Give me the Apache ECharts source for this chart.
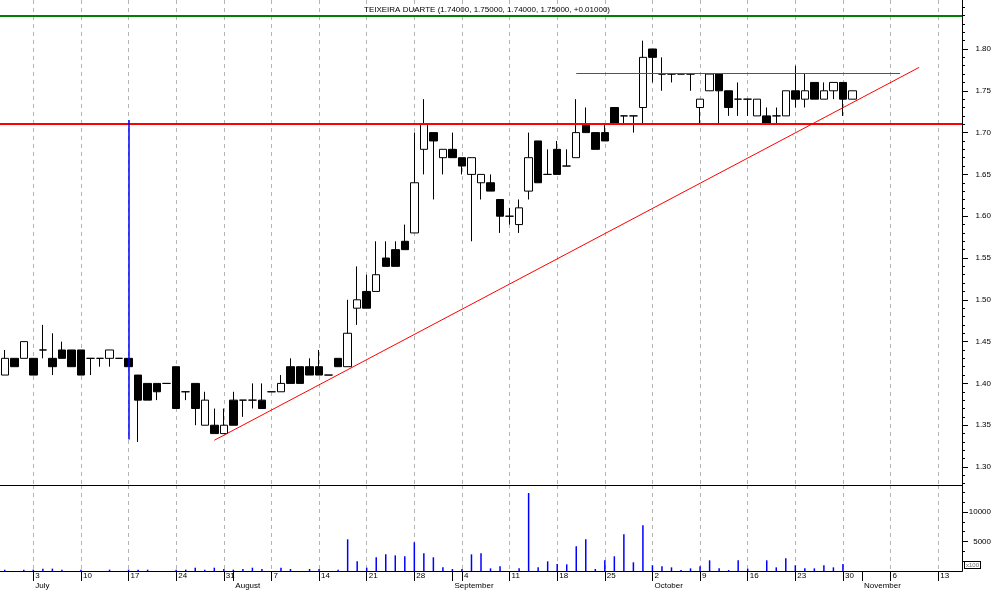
<!DOCTYPE html>
<html><head><meta charset="utf-8">
<script src="https://cdn.jsdelivr.net/npm/echarts@6/dist/echarts.min.js"></script>
<style>html,body{margin:0;padding:0;background:#fff}#c{width:994px;height:591px}</style>
</head><body><div id="c"></div>
<script>
// trading-day categories (2006), including empty future days on the axis
const dates = [
'2006-06-28','2006-06-29','2006-06-30',
'2006-07-03','2006-07-04','2006-07-05','2006-07-06','2006-07-07','2006-07-10','2006-07-11','2006-07-12','2006-07-13','2006-07-14',
'2006-07-17','2006-07-18','2006-07-19','2006-07-20','2006-07-21','2006-07-24','2006-07-25','2006-07-26','2006-07-27','2006-07-28','2006-07-31',
'2006-08-01','2006-08-02','2006-08-03','2006-08-04','2006-08-07','2006-08-08','2006-08-09','2006-08-10','2006-08-11','2006-08-14','2006-08-15',
'2006-08-16','2006-08-17','2006-08-18','2006-08-21','2006-08-22','2006-08-23','2006-08-24','2006-08-25','2006-08-28','2006-08-29','2006-08-30','2006-08-31',
'2006-09-01','2006-09-04','2006-09-05','2006-09-06','2006-09-07','2006-09-08','2006-09-11','2006-09-12','2006-09-13','2006-09-14','2006-09-15',
'2006-09-18','2006-09-19','2006-09-20','2006-09-21','2006-09-22','2006-09-25','2006-09-26','2006-09-27','2006-09-28','2006-09-29',
'2006-10-02','2006-10-03','2006-10-04','2006-10-05','2006-10-06','2006-10-09','2006-10-10','2006-10-11','2006-10-12','2006-10-13',
'2006-10-16','2006-10-17','2006-10-18','2006-10-19','2006-10-20','2006-10-23','2006-10-24','2006-10-25','2006-10-26','2006-10-27','2006-10-30','2006-10-31',
'2006-11-01','2006-11-02','2006-11-03','2006-11-06','2006-11-07','2006-11-08','2006-11-09','2006-11-10','2006-11-13','2006-11-14','2006-11-15'
];
const openP  = [1.41,1.43,1.43,1.43,1.44,1.43,1.44,1.44,1.44,1.43,1.43,1.43,1.43,1.43,1.41,1.40,1.40,1.40,1.42,1.39,1.40,1.35,1.35,1.34,
1.38,1.38,1.38,1.38,1.39,1.39,1.42,1.42,1.42,1.42,1.41,1.43,1.42,1.49,1.51,1.51,1.55,1.56,1.57,1.58,1.68,1.70,1.67,
1.68,1.67,1.65,1.64,1.64,1.62,1.60,1.59,1.63,1.69,1.65,1.68,1.66,1.67,1.71,1.70,1.70,1.73,1.72,1.72,1.73,
1.80,1.77,1.77,1.77,1.77,1.73,1.75,1.77,1.75,1.74,1.74,1.72,1.72,1.72,1.72,1.75,1.74,1.76,1.74,1.75,1.76,1.74];
const closeP = [1.43,1.42,1.45,1.41,1.44,1.42,1.43,1.42,1.41,1.43,1.43,1.44,1.43,1.42,1.38,1.38,1.39,1.40,1.37,1.39,1.37,1.38,1.34,1.35,
1.35,1.38,1.38,1.37,1.39,1.40,1.40,1.40,1.41,1.41,1.41,1.42,1.46,1.50,1.49,1.53,1.54,1.54,1.56,1.64,1.71,1.69,1.68,
1.67,1.66,1.67,1.65,1.63,1.60,1.60,1.61,1.67,1.64,1.65,1.65,1.66,1.70,1.70,1.68,1.69,1.71,1.72,1.72,1.79,
1.79,1.77,1.77,1.77,1.77,1.74,1.77,1.75,1.73,1.74,1.74,1.74,1.71,1.72,1.75,1.74,1.75,1.74,1.75,1.76,1.74,1.75];
const lowP   = [1.41,1.42,1.43,1.41,1.43,1.41,1.43,1.42,1.41,1.41,1.42,1.42,1.43,1.42,1.33,1.38,1.38,1.40,1.37,1.38,1.35,1.35,1.34,1.34,
1.35,1.36,1.37,1.37,1.39,1.39,1.40,1.40,1.41,1.41,1.41,1.42,1.42,1.47,1.49,1.51,1.54,1.54,1.56,1.58,1.65,1.62,1.65,
1.67,1.65,1.57,1.62,1.63,1.58,1.59,1.58,1.62,1.64,1.65,1.65,1.66,1.67,1.70,1.68,1.69,1.71,1.71,1.70,1.71,
1.76,1.75,1.76,1.77,1.75,1.71,1.75,1.71,1.72,1.72,1.72,1.72,1.71,1.71,1.72,1.73,1.73,1.74,1.74,1.74,1.72,1.74];
const highP  = [1.44,1.43,1.45,1.43,1.47,1.46,1.45,1.44,1.44,1.43,1.43,1.44,1.43,1.43,1.41,1.40,1.40,1.40,1.42,1.39,1.40,1.39,1.37,1.37,
1.39,1.38,1.40,1.40,1.39,1.41,1.43,1.42,1.43,1.44,1.41,1.43,1.50,1.54,1.53,1.57,1.57,1.57,1.59,1.70,1.74,1.70,1.68,
1.70,1.67,1.67,1.65,1.65,1.62,1.61,1.62,1.70,1.69,1.68,1.69,1.68,1.74,1.73,1.70,1.71,1.73,1.72,1.72,1.81,
1.80,1.79,1.77,1.77,1.77,1.74,1.77,1.77,1.75,1.76,1.74,1.74,1.73,1.73,1.75,1.78,1.77,1.76,1.76,1.76,1.76,1.75];
// volume (x100)
const volume = [230,0,230,230,400,400,230,0,230,0,0,230,0,230,230,230,0,0,230,230,560,230,560,340,
230,340,560,340,0,560,340,0,340,340,0,230,5370,1640,560,2320,2820,2650,2490,4860,2990,2320,620,
340,340,2820,2990,450,790,0,450,13220,620,1640,1190,1130,4180,5370,340,1810,2490,6210,1470,7740,
960,790,620,170,450,790,1810,450,170,1810,400,0,1810,620,2150,960,450,450,960,620,1190,0];
// drawn lines
const supportLevel = 1.7115;
const topLevel = 1.8434;
const resistance = [['2006-09-20',1.771],['2006-11-07',1.771]];
const trendLine = [['2006-07-28',1.332],['2006-11-09',1.778]];
const spikeJul = [['2006-07-17',1.715],['2006-07-17',1.333]];
const spikeOct = [['2006-10-20',1.733],['2006-10-20',1.87]];
// tick labels
const weekTicks = ['2006-07-03','2006-07-10','2006-07-17','2006-07-24','2006-07-31','2006-08-07','2006-08-14','2006-08-21','2006-08-28',
'2006-09-04','2006-09-11','2006-09-18','2006-09-25','2006-10-02','2006-10-09','2006-10-16','2006-10-23','2006-10-30','2006-11-06','2006-11-13'];
const monthTicks = {'2006-07-03':'July','2006-08-01':'August','2006-09-01':'September','2006-10-02':'October','2006-11-01':'November'};
const priceLabels = [1.30,1.35,1.40,1.45,1.50,1.55,1.60,1.65,1.70,1.75,1.80];
const volLabels = [5000,10000];
const titleText = 'TEIXEIRA DUARTE (1.74000, 1.75000, 1.74000, 1.75000, +0.01000)';

const priceMinor = [];
for (let k = 128; k <= 185; k++) priceMinor.push(k / 100);
const volMinor = [];
for (let k = 1; k <= 8; k++) volMinor.push(k * 5000 / 3);

const ohlc = openP.map((o, i) => [o, closeP[i], lowP[i], highP[i]]);
const isWeek = (i, v) => weekTicks.indexOf(v) >= 0;
const isMonth = (i, v) => monthTicks[v] !== undefined;
const FONT = 'Liberation Sans';
const dashed = { show: true, interval: isWeek, alignWithLabel: true, lineStyle: { color: '#b4b4b4', width: 1, type: [4, 4] } };
const seg = (pts, color, w) => [{ coord: pts[0], lineStyle: { color: color, width: w, type: 'solid' } }, { coord: pts[1] }];

const chart = echarts.init(document.getElementById('c'), null, { renderer: 'canvas' });
chart.setOption({
  animation: false,
  backgroundColor: '#fff',
  title: { text: titleText, left: 482, top: 1, textAlign: 'center',
    textStyle: { fontFamily: FONT, fontSize: 8, fontWeight: 'normal', color: '#000' } },
  grid: [
    { left: 0, right: 32, top: 0, height: 485 },
    { left: 0, right: 32, top: 485, height: 86 }
  ],
  xAxis: [
    { type: 'category', data: dates, gridIndex: 0, boundaryGap: true,
      axisLine: { show: true, lineStyle: { color: '#000', width: 1 } },
      axisTick: { show: false }, axisLabel: { show: false }, splitLine: dashed },
    { type: 'category', data: dates, gridIndex: 1, boundaryGap: true, position: 'bottom',
      axisLine: { show: true, lineStyle: { color: '#000', width: 1 } },
      axisTick: { show: true, interval: isWeek, alignWithLabel: true, length: 10, lineStyle: { color: '#000' } },
      axisLabel: { show: true, interval: isWeek, margin: 1, align: 'left', padding: [0, 0, 0, 2],
        fontFamily: FONT, fontSize: 8, color: '#000', formatter: v => String(parseInt(v.slice(8), 10)) },
      splitLine: dashed },
    { type: 'category', data: dates, gridIndex: 1, boundaryGap: true, position: 'bottom', offset: 10,
      axisLine: { show: true, lineStyle: { color: '#000', width: 1 } },
      axisTick: { show: true, interval: isMonth, alignWithLabel: true, length: 10, lineStyle: { color: '#000' } },
      axisLabel: { show: true, interval: isMonth, margin: 1, align: 'left', padding: [0, 0, 0, 2],
        fontFamily: FONT, fontSize: 8, color: '#000', formatter: v => monthTicks[v] || '' },
      splitLine: { show: false } }
  ],
  yAxis: [
    { type: 'value', gridIndex: 0, position: 'right', min: 1.2785, max: 1.8586, scale: true,
      axisLine: { show: true, lineStyle: { color: '#000', width: 1 } },
      axisTick: { show: true, customValues: priceMinor, length: 3, lineStyle: { color: '#000' } },
      axisLabel: { show: true, customValues: priceLabels, margin: 29, align: 'right',
        fontFamily: FONT, fontSize: 8, color: '#000', formatter: v => v.toFixed(2) },
      splitLine: { show: false } },
    { type: 'value', gridIndex: 0, position: 'right', min: 1.2785, max: 1.8586, scale: true,
      axisLine: { show: false },
      axisTick: { show: true, customValues: priceLabels, length: 6, lineStyle: { color: '#000' } },
      axisLabel: { show: false }, splitLine: { show: false } },
    { type: 'value', gridIndex: 1, position: 'right', min: 0, max: 14576,
      axisLine: { show: true, lineStyle: { color: '#000', width: 1 } },
      axisTick: { show: true, customValues: volMinor, length: 3, lineStyle: { color: '#000' } },
      axisLabel: { show: true, customValues: volLabels, margin: 29, align: 'right',
        fontFamily: FONT, fontSize: 8, color: '#000', formatter: v => String(Math.round(v)) },
      splitLine: { show: false } },
    { type: 'value', gridIndex: 1, position: 'right', min: 0, max: 14576,
      axisLine: { show: false },
      axisTick: { show: true, customValues: volLabels, length: 6, lineStyle: { color: '#000' } },
      axisLabel: { show: false }, splitLine: { show: false } }
  ],
  graphic: [
    { type: 'text', left: 964, top: 561, z: 10,
      style: { text: 'x100', fontFamily: FONT, fontSize: 6, fill: '#666',
        borderColor: '#000', borderWidth: 1, padding: [0, 1, 0, 1], backgroundColor: '#fff' } }
  ],
  series: [
    { type: 'candlestick', xAxisIndex: 0, yAxisIndex: 0, data: ohlc, barWidth: 8,
      itemStyle: { color: '#fff', color0: '#000', borderColor: '#000', borderColor0: '#000', borderColorDoji: '#000', borderWidth: 1 },
      markLine: { silent: true, symbol: ['none', 'none'], animation: false, z: 10,
        label: { show: false },
        data: [
          { yAxis: supportLevel, lineStyle: { color: '#ff0000', width: 2, type: 'solid' } },
          { yAxis: topLevel, lineStyle: { color: '#008000', width: 2, type: 'solid' } },
          seg(resistance, '#1e7a1e', 1),
          seg(trendLine, '#ff0000', 1),
          seg(spikeJul, '#0000ff', 1.5),
          seg(spikeOct, '#0000ff', 1.5)
        ] } },
    { type: 'bar', xAxisIndex: 1, yAxisIndex: 2, data: volume, barWidth: 1.5,
      itemStyle: { color: '#0000ff' } }
  ]
});
</script>
</body></html>
